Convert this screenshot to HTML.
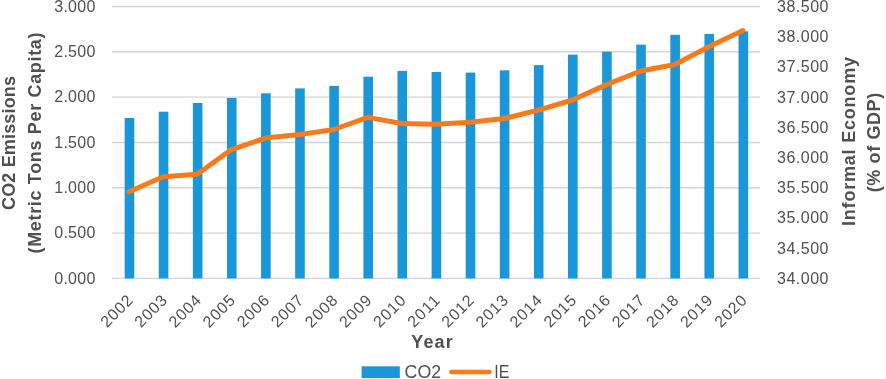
<!DOCTYPE html>
<html><head><meta charset="utf-8"><style>
html,body{margin:0;padding:0;background:#fff;}
body{width:886px;height:379px;overflow:hidden;}
svg{display:block;will-change:transform;}
text{font-family:"Liberation Sans",sans-serif;fill:#505050;}
.ax{font-size:16px;}
.ttl{font-size:18px;font-weight:bold;}
.leg{font-size:18.5px;}
</style></head><body>
<svg width="886" height="379" viewBox="0 0 886 379">
<line x1="112" x2="760" y1="6.50" y2="6.50" stroke="#d4d4d4" stroke-width="1.4"/>
<line x1="112" x2="760" y1="51.82" y2="51.82" stroke="#d4d4d4" stroke-width="1.4"/>
<line x1="112" x2="760" y1="97.13" y2="97.13" stroke="#d4d4d4" stroke-width="1.4"/>
<line x1="112" x2="760" y1="142.45" y2="142.45" stroke="#d4d4d4" stroke-width="1.4"/>
<line x1="112" x2="760" y1="187.77" y2="187.77" stroke="#d4d4d4" stroke-width="1.4"/>
<line x1="112" x2="760" y1="233.08" y2="233.08" stroke="#d4d4d4" stroke-width="1.4"/>
<line x1="112" x2="760" y1="278.40" y2="278.40" stroke="#d4d4d4" stroke-width="1.4"/>
<rect x="124.65" y="118.00" width="9.6" height="160.40" fill="#1997d8"/>
<rect x="158.76" y="111.70" width="9.6" height="166.70" fill="#1997d8"/>
<rect x="192.86" y="103.00" width="9.6" height="175.40" fill="#1997d8"/>
<rect x="226.97" y="98.00" width="9.6" height="180.40" fill="#1997d8"/>
<rect x="261.07" y="93.30" width="9.6" height="185.10" fill="#1997d8"/>
<rect x="295.18" y="88.40" width="9.6" height="190.00" fill="#1997d8"/>
<rect x="329.28" y="85.90" width="9.6" height="192.50" fill="#1997d8"/>
<rect x="363.39" y="76.70" width="9.6" height="201.70" fill="#1997d8"/>
<rect x="397.49" y="70.90" width="9.6" height="207.50" fill="#1997d8"/>
<rect x="431.60" y="72.00" width="9.6" height="206.40" fill="#1997d8"/>
<rect x="465.71" y="72.60" width="9.6" height="205.80" fill="#1997d8"/>
<rect x="499.81" y="70.30" width="9.6" height="208.10" fill="#1997d8"/>
<rect x="533.92" y="65.10" width="9.6" height="213.30" fill="#1997d8"/>
<rect x="568.02" y="54.60" width="9.6" height="223.80" fill="#1997d8"/>
<rect x="602.13" y="51.70" width="9.6" height="226.70" fill="#1997d8"/>
<rect x="636.23" y="44.60" width="9.6" height="233.80" fill="#1997d8"/>
<rect x="670.34" y="34.80" width="9.6" height="243.60" fill="#1997d8"/>
<rect x="704.44" y="33.90" width="9.6" height="244.50" fill="#1997d8"/>
<rect x="738.55" y="31.30" width="9.6" height="247.10" fill="#1997d8"/>
<polyline points="129.05,191.70 163.16,176.80 197.26,174.30 231.37,149.60 265.47,138.10 299.58,134.60 333.68,129.50 367.79,117.40 401.89,123.50 436.00,124.30 470.11,122.30 504.21,118.50 538.32,110.10 572.42,100.00 606.53,84.60 640.63,71.00 674.74,64.50 708.84,46.70 742.95,30.50" fill="none" stroke="#f97a1a" stroke-width="5.0" stroke-linejoin="round" stroke-linecap="round"/>
<text x="95.4" y="11.80" text-anchor="end" class="ax" textLength="41.2" lengthAdjust="spacing">3.000</text>
<text x="95.4" y="57.12" text-anchor="end" class="ax" textLength="41.2" lengthAdjust="spacing">2.500</text>
<text x="95.4" y="102.43" text-anchor="end" class="ax" textLength="41.2" lengthAdjust="spacing">2.000</text>
<text x="95.4" y="147.75" text-anchor="end" class="ax" textLength="41.2" lengthAdjust="spacing">1.500</text>
<text x="95.4" y="193.07" text-anchor="end" class="ax" textLength="41.2" lengthAdjust="spacing">1.000</text>
<text x="95.4" y="238.38" text-anchor="end" class="ax" textLength="41.2" lengthAdjust="spacing">0.500</text>
<text x="95.4" y="283.70" text-anchor="end" class="ax" textLength="41.2" lengthAdjust="spacing">0.000</text>
<text x="777" y="11.90" class="ax" textLength="51.5" lengthAdjust="spacing">38.500</text>
<text x="777" y="42.11" class="ax" textLength="51.5" lengthAdjust="spacing">38.000</text>
<text x="777" y="72.32" class="ax" textLength="51.5" lengthAdjust="spacing">37.500</text>
<text x="777" y="102.53" class="ax" textLength="51.5" lengthAdjust="spacing">37.000</text>
<text x="777" y="132.74" class="ax" textLength="51.5" lengthAdjust="spacing">36.500</text>
<text x="777" y="162.96" class="ax" textLength="51.5" lengthAdjust="spacing">36.000</text>
<text x="777" y="193.17" class="ax" textLength="51.5" lengthAdjust="spacing">35.500</text>
<text x="777" y="223.38" class="ax" textLength="51.5" lengthAdjust="spacing">35.000</text>
<text x="777" y="253.59" class="ax" textLength="51.5" lengthAdjust="spacing">34.500</text>
<text x="777" y="283.80" class="ax" textLength="51.5" lengthAdjust="spacing">34.000</text>
<text x="133.85" y="301.5" text-anchor="end" class="ax" textLength="38.0" lengthAdjust="spacing" transform="rotate(-45 133.85 301.5)">2002</text>
<text x="167.96" y="301.5" text-anchor="end" class="ax" textLength="38.0" lengthAdjust="spacing" transform="rotate(-45 167.96 301.5)">2003</text>
<text x="202.06" y="301.5" text-anchor="end" class="ax" textLength="38.0" lengthAdjust="spacing" transform="rotate(-45 202.06 301.5)">2004</text>
<text x="236.17" y="301.5" text-anchor="end" class="ax" textLength="38.0" lengthAdjust="spacing" transform="rotate(-45 236.17 301.5)">2005</text>
<text x="270.27" y="301.5" text-anchor="end" class="ax" textLength="38.0" lengthAdjust="spacing" transform="rotate(-45 270.27 301.5)">2006</text>
<text x="304.38" y="301.5" text-anchor="end" class="ax" textLength="38.0" lengthAdjust="spacing" transform="rotate(-45 304.38 301.5)">2007</text>
<text x="338.48" y="301.5" text-anchor="end" class="ax" textLength="38.0" lengthAdjust="spacing" transform="rotate(-45 338.48 301.5)">2008</text>
<text x="372.59" y="301.5" text-anchor="end" class="ax" textLength="38.0" lengthAdjust="spacing" transform="rotate(-45 372.59 301.5)">2009</text>
<text x="406.69" y="301.5" text-anchor="end" class="ax" textLength="38.0" lengthAdjust="spacing" transform="rotate(-45 406.69 301.5)">2010</text>
<text x="440.80" y="301.5" text-anchor="end" class="ax" textLength="38.0" lengthAdjust="spacing" transform="rotate(-45 440.80 301.5)">2011</text>
<text x="474.91" y="301.5" text-anchor="end" class="ax" textLength="38.0" lengthAdjust="spacing" transform="rotate(-45 474.91 301.5)">2012</text>
<text x="509.01" y="301.5" text-anchor="end" class="ax" textLength="38.0" lengthAdjust="spacing" transform="rotate(-45 509.01 301.5)">2013</text>
<text x="543.12" y="301.5" text-anchor="end" class="ax" textLength="38.0" lengthAdjust="spacing" transform="rotate(-45 543.12 301.5)">2014</text>
<text x="577.22" y="301.5" text-anchor="end" class="ax" textLength="38.0" lengthAdjust="spacing" transform="rotate(-45 577.22 301.5)">2015</text>
<text x="611.33" y="301.5" text-anchor="end" class="ax" textLength="38.0" lengthAdjust="spacing" transform="rotate(-45 611.33 301.5)">2016</text>
<text x="645.43" y="301.5" text-anchor="end" class="ax" textLength="38.0" lengthAdjust="spacing" transform="rotate(-45 645.43 301.5)">2017</text>
<text x="679.54" y="301.5" text-anchor="end" class="ax" textLength="38.0" lengthAdjust="spacing" transform="rotate(-45 679.54 301.5)">2018</text>
<text x="713.64" y="301.5" text-anchor="end" class="ax" textLength="38.0" lengthAdjust="spacing" transform="rotate(-45 713.64 301.5)">2019</text>
<text x="747.75" y="301.5" text-anchor="end" class="ax" textLength="38.0" lengthAdjust="spacing" transform="rotate(-45 747.75 301.5)">2020</text>
<text x="432" y="348.2" text-anchor="middle" class="ttl" textLength="41.5" lengthAdjust="spacing">Year</text>
<text transform="translate(14.5 143) rotate(-90)" text-anchor="middle" class="ttl" textLength="134" lengthAdjust="spacing">CO2 Emissions</text>
<text transform="translate(41 143) rotate(-90)" text-anchor="middle" class="ttl" textLength="221" lengthAdjust="spacing">(Metric Tons Per Capita)</text>
<text transform="translate(855 141.5) rotate(-90)" text-anchor="middle" class="ttl" textLength="169" lengthAdjust="spacing">Informal Economy</text>
<text transform="translate(880.4 142.5) rotate(-90)" text-anchor="middle" class="ttl" textLength="99.5" lengthAdjust="spacing">(% of GDP)</text>
<rect x="361.6" y="366.3" width="38.2" height="11.8" fill="#1997d8"/>
<text x="404.6" y="378" class="leg" textLength="36.6" lengthAdjust="spacingAndGlyphs">CO2</text>
<line x1="451.5" x2="489.5" y1="372" y2="372" stroke="#f97a1a" stroke-width="4.6" stroke-linecap="round"/>
<text x="494.2" y="378" class="leg" textLength="15.2" lengthAdjust="spacingAndGlyphs">IE</text>
</svg>
</body></html>
